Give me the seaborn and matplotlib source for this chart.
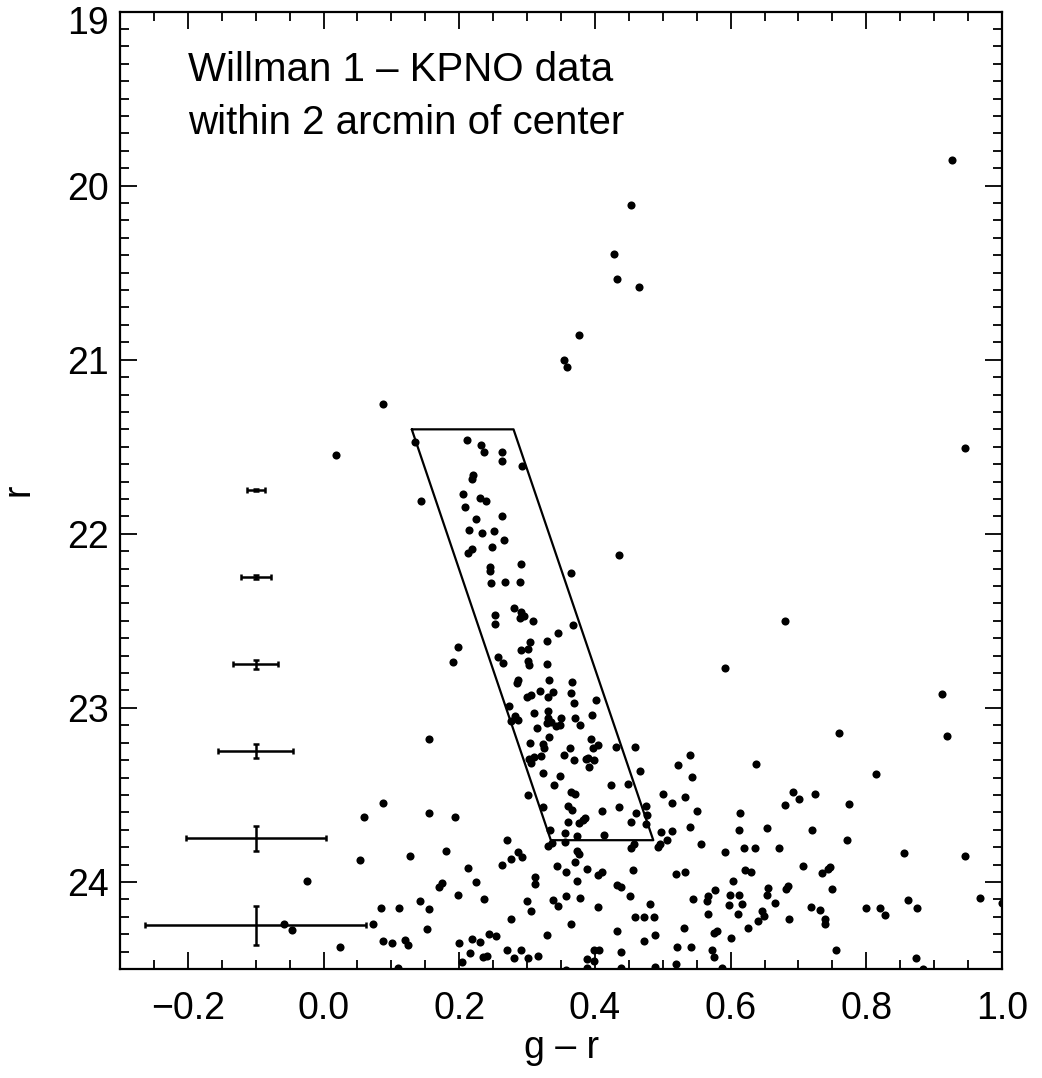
import matplotlib
matplotlib.use("Agg")
import matplotlib.pyplot as plt
import matplotlib.transforms as mtransforms
import seaborn as sns
import numpy as np
import pandas as pd
from matplotlib.ticker import MultipleLocator

# ---- data ----
g_r = [0.926, 0.453, 0.428, 0.433, 0.465, 0.376, 0.354, 0.359, 0.087, 0.019, 0.946, 0.680,
       0.135, 0.211, 0.232, 0.236, 0.263, 0.263, 0.292, 0.221, 0.219, 0.144, 0.206, 0.230, 0.239,
       0.209, 0.225, 0.263, 0.214, 0.233, 0.251, 0.266, 0.249, 0.219, 0.213, 0.436, 0.246, 0.246,
       0.291, 0.365, 0.247, 0.268, 0.290, 0.280, 0.252, 0.291, 0.289, 0.295, 0.308,
       0.252, 0.368, 0.346, 0.198, 0.191, 0.329, 0.305, 0.301, 0.291, 0.257, 0.265, 0.302, 0.303,
       0.330, 0.286, 0.285, 0.333, 0.366, 0.319, 0.338, 0.331, 0.364, 0.300, 0.306, 0.369, 0.401,
       0.273, 0.331, 0.310, 0.282, 0.277, 0.287, 0.331, 0.335, 0.330, 0.350, 0.370, 0.396, 0.342,
       0.349, 0.314, 0.378, 0.156, 0.333, 0.394, 0.304, 0.323, 0.325, 0.363, 0.397, 0.405, 0.431,
       0.459, 0.303, 0.310, 0.306, 0.321, 0.355, 0.369, 0.387, 0.390, 0.398, 0.391, 0.323, 0.348,
       0.340, 0.423, 0.449, 0.467, 0.522, 0.540, 0.543, 0.302, 0.365, 0.371, 0.500, 0.533,
       0.591, 0.912, 0.919, 0.760, 0.638, 0.815, 0.692, 0.701, 0.724,
       0.088, 0.060, 0.054, 0.127, -0.024, 0.142, 0.085, 0.111, -0.058, -0.047, 0.073, 0.088,
       0.101, 0.120, 0.124, 0.024, 0.110,
       0.323, 0.360, 0.366, 0.411, 0.436, 0.460, 0.476, 0.477, 0.513, 0.551, 0.156, 0.194, 0.361,
       0.377, 0.382, 0.386, 0.453, 0.475, 0.540, 0.514, 0.334, 0.356, 0.373, 0.414, 0.497, 0.556,
       0.270, 0.331, 0.336, 0.356, 0.453, 0.457, 0.493, 0.496, 0.506, 0.373, 0.377, 0.181, 0.286,
       0.277, 0.293, 0.263, 0.370, 0.344, 0.213, 0.357, 0.388, 0.405, 0.411, 0.456, 0.519, 0.533,
       0.312, 0.311, 0.373, 0.225, 0.170, 0.174, 0.432, 0.439, 0.198, 0.236, 0.358, 0.378, 0.451,
       0.545, 0.155, 0.300, 0.306, 0.338, 0.346, 0.404, 0.481, 0.276, 0.365, 0.459, 0.472, 0.487,
       0.153, 0.329, 0.432, 0.488, 0.531, 0.200, 0.219, 0.231, 0.244, 0.254, 0.216, 0.204, 0.235,
       0.241, 0.270, 0.280, 0.291, 0.302, 0.316, 0.399, 0.406, 0.388, 0.399, 0.388, 0.439, 0.472,
       0.521, 0.541, 0.520, 0.439, 0.489, 0.358,
       0.614, 0.612, 0.592, 0.620, 0.636, 0.653, 0.672, 0.680, 0.720, 0.774, 0.772, 0.621, 0.630,
       0.603, 0.577, 0.567, 0.565, 0.566, 0.599, 0.612, 0.597, 0.617, 0.611, 0.626, 0.575, 0.580,
       0.601, 0.572, 0.575, 0.588, 0.646, 0.649, 0.641, 0.653, 0.655, 0.665, 0.682, 0.684, 0.686,
       0.706, 0.719, 0.732, 0.735, 0.744, 0.746, 0.750, 0.739, 0.739, 0.756, 0.799, 0.820, 0.827,
       0.855, 0.862, 0.875, 0.873, 0.884, 0.945, 0.967, 1.000]

r_mag = [19.853, 20.112, 20.390, 20.537, 20.581, 20.856, 21.003, 21.041, 21.257, 21.550, 21.506, 22.501,
         21.471, 21.460, 21.488, 21.533, 21.530, 21.580, 21.611, 21.661, 21.684, 21.811, 21.772, 21.797, 21.811,
         21.845, 21.913, 21.899, 21.976, 21.993, 21.982, 22.035, 22.074, 22.085, 22.110, 22.120, 22.190, 22.215,
         22.171, 22.225, 22.282, 22.278, 22.278, 22.425, 22.467, 22.449, 22.482, 22.472, 22.500,
         22.518, 22.522, 22.572, 22.653, 22.739, 22.618, 22.624, 22.661, 22.668, 22.708, 22.741, 22.731, 22.756,
         22.747, 22.841, 22.856, 22.842, 22.852, 22.902, 22.911, 22.935, 22.915, 22.939, 22.927, 22.973, 22.956,
         22.990, 23.019, 23.032, 23.046, 23.073, 23.067, 23.058, 23.080, 23.088, 23.059, 23.059, 23.042, 23.105,
         23.098, 23.113, 23.101, 23.180, 23.165, 23.180, 23.201, 23.207, 23.230, 23.232, 23.230, 23.211, 23.224,
         23.222, 23.291, 23.282, 23.314, 23.278, 23.270, 23.297, 23.295, 23.288, 23.301, 23.341, 23.372, 23.391,
         23.441, 23.441, 23.437, 23.364, 23.326, 23.270, 23.399, 23.498, 23.485, 23.497, 23.497, 23.514,
         22.773, 22.923, 23.163, 23.144, 23.322, 23.382, 23.483, 23.525, 23.495,
         23.546, 23.629, 23.874, 23.853, 23.993, 24.110, 24.148, 24.147, 24.239, 24.277, 24.243, 24.341,
         24.348, 24.333, 24.364, 24.375, 24.492,
         23.567, 23.566, 23.585, 23.594, 23.569, 23.602, 23.562, 23.617, 23.548, 23.593, 23.602, 23.627, 23.656,
         23.662, 23.646, 23.635, 23.658, 23.665, 23.682, 23.705, 23.704, 23.721, 23.734, 23.732, 23.715, 23.784,
         23.757, 23.792, 23.778, 23.773, 23.803, 23.784, 23.800, 23.780, 23.757, 23.820, 23.842, 23.820, 23.826,
         23.866, 23.859, 23.901, 23.888, 23.911, 23.918, 23.944, 23.928, 23.959, 23.940, 23.930, 23.955, 23.941,
         23.970, 24.010, 23.993, 23.999, 24.030, 24.007, 24.016, 24.030, 24.076, 24.097, 24.082, 24.091, 24.079,
         24.099, 24.154, 24.110, 24.168, 24.101, 24.139, 24.143, 24.129, 24.212, 24.243, 24.202, 24.202, 24.202,
         24.273, 24.306, 24.283, 24.304, 24.266, 24.352, 24.325, 24.344, 24.296, 24.308, 24.410, 24.457, 24.433,
         24.425, 24.390, 24.438, 24.390, 24.438, 24.423, 24.390, 24.390, 24.442, 24.453, 24.492, 24.400, 24.337,
         24.375, 24.371, 24.469, 24.496, 24.488, 24.505,
         23.606, 23.704, 23.830, 23.805, 23.807, 23.688, 23.805, 23.556, 23.704, 23.552, 23.757, 23.930, 23.945,
         23.993, 24.045, 24.079, 24.110, 24.183, 24.076, 24.076, 24.133, 24.128, 24.183, 24.262, 24.292, 24.283,
         24.321, 24.390, 24.433, 24.492, 24.164, 24.198, 24.225, 24.074, 24.036, 24.118, 24.039, 24.024, 24.214,
         23.909, 24.143, 24.160, 23.951, 23.928, 23.916, 24.039, 24.210, 24.241, 24.390, 24.151, 24.151, 24.187,
         23.836, 24.102, 24.151, 24.438, 24.498, 23.851, 24.091, 24.120]

# representative photometric errors
err_g_r = [-0.1, -0.1, -0.1, -0.1, -0.1, -0.1]
err_r = [21.75, 22.25, 22.75, 23.25, 23.75, 24.25]
err_color = [0.013, 0.022, 0.033, 0.055, 0.103, 0.163]
err_mag = [0.005, 0.012, 0.026, 0.040, 0.072, 0.112]

# selection box (CMD polygon)
box_g_r = [0.130, 0.280, 0.486, 0.335, 0.130]
box_r = [21.40, 21.40, 23.76, 23.76, 21.40]

x_ticks = [-0.2, 0.0, 0.2, 0.4, 0.6, 0.8, 1.0]
x_ticklabels = ["\u22120.2", "0.0", "0.2", "0.4", "0.6", "0.8", "1.0"]
y_ticks = [19, 20, 21, 22, 23, 24]
y_ticklabels = ["19", "20", "21", "22", "23", "24"]

annotation = ["Willman 1 \u2013 KPNO data", "within 2 arcmin of center"]

# ---- style ----
sns.set_theme(style="ticks")
plt.rcParams['font.family'] = ['Liberation Sans', 'DejaVu Sans']
plt.rcParams['text.color'] = 'black'
plt.rcParams['axes.labelcolor'] = 'black'
plt.rcParams['xtick.color'] = 'black'
plt.rcParams['ytick.color'] = 'black'
plt.rcParams['axes.edgecolor'] = 'black'

df = pd.DataFrame({"g_r": g_r, "r": r_mag})

fig = plt.figure(figsize=(10.42, 10.78), dpi=100)
ax = fig.add_axes([0.1152, 0.1011, 0.8464, 0.8882])

sns.scatterplot(data=df, x="g_r", y="r", color="black", s=34, linewidth=0, ax=ax, zorder=3)

ax.errorbar(err_g_r, err_r, xerr=err_color, yerr=err_mag, fmt='none', ecolor='black',
            elinewidth=1.8, capsize=2.5, capthick=1.8, zorder=3)

ax.plot(box_g_r, box_r, color='black', lw=1.6, zorder=2)

ax.set_xlim(-0.3, 1.0)
ax.set_ylim(24.5, 19.0)

ax.xaxis.set_minor_locator(MultipleLocator(0.05))
ax.yaxis.set_minor_locator(MultipleLocator(0.1))
ax.set_xticks(x_ticks)
ax.set_xticklabels(x_ticklabels)
ax.set_yticks(y_ticks)
ax.set_yticklabels(y_ticklabels)

ax.tick_params(which='both', direction='in', top=True, right=True, color='black',
               labelcolor='black')
ax.tick_params(which='major', length=12.5, width=1.3, labelsize=27)
ax.tick_params(which='minor', length=6.2, width=1.3)
ax.tick_params(axis='x', which='major', pad=16)
ax.tick_params(axis='y', which='major', pad=8)

# keep the top "19" label inside the figure, as in the reference
lab19 = ax.get_yticklabels()[0]
lab19.set_verticalalignment('top')
lab19.set_transform(lab19.get_transform() +
                    mtransforms.ScaledTranslation(0, 4 / 72, fig.dpi_scale_trans))

for sp in ax.spines.values():
    sp.set_linewidth(1.6)
    sp.set_color('black')
    sp.set_visible(True)

ax.set_xlabel("g \u2013 r", fontsize=27, labelpad=2)
ax.set_ylabel("r", fontsize=27, labelpad=22)

ax.text(0.077, 0.9274, annotation[0], transform=ax.transAxes, fontsize=29,
        ha='left', va='baseline', color='black')
ax.text(0.077, 0.8724, annotation[1], transform=ax.transAxes, fontsize=29,
        ha='left', va='baseline', color='black')

fig.savefig("out.png", dpi=100, facecolor='white')
